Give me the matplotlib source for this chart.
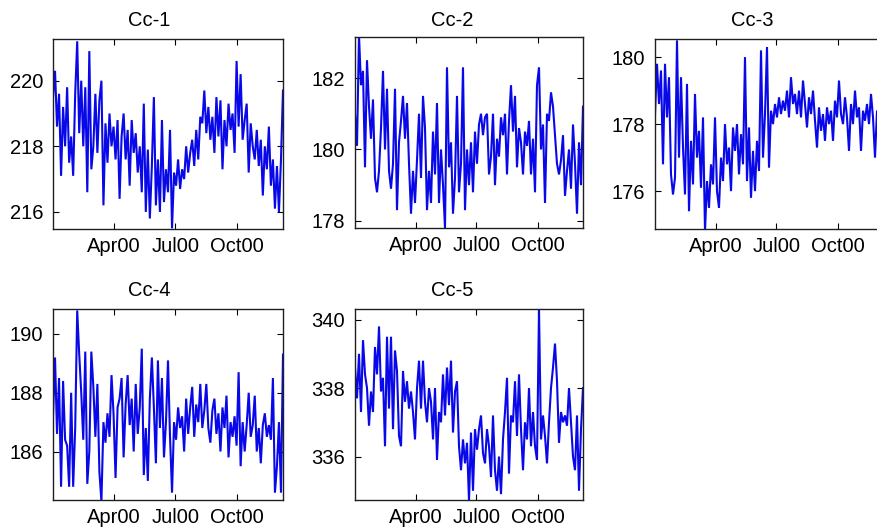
import numpy as np
import pandas as pd
import matplotlib
matplotlib.use('Agg')
import matplotlib.pyplot as plt
import matplotlib.dates as mdates

plt.rcParams['font.family'] = ['Liberation Sans', 'DejaVu Sans']

# sampled every third day through 2000
start = '2000-01-01'

cc1 = [219.5, 220.3, 218.6, 219.6, 217.1, 219.2, 218.0, 219.8, 217.5, 218.3,
       217.1, 219.6, 221.2, 218.4, 220.0, 218.0, 219.8, 216.6, 220.9, 217.3,
       218.0, 219.6, 217.8, 219.4, 220.0, 216.2, 218.7, 217.5, 219.0, 218.0,
       218.6, 217.6, 218.8, 216.4, 218.3, 219.0, 217.6, 218.5, 216.8, 218.8,
       217.8, 218.4, 217.2, 218.0, 216.6, 219.3, 216.0, 217.9, 215.8, 217.4,
       219.5, 216.2, 217.6, 216.0, 218.8, 216.3, 217.3, 216.6, 218.5, 215.5,
       217.2, 216.8, 217.6, 216.7, 217.3, 217.0, 218.0, 217.2, 217.8, 218.2,
       217.4, 218.5, 217.6, 218.9, 218.7, 219.7, 218.4, 219.2, 218.2, 218.9,
       217.8, 219.5, 218.3, 219.4, 217.3, 218.8, 218.0, 219.3, 218.5, 219.0,
       217.8, 220.6, 218.6, 220.2, 218.2, 218.8, 219.3, 217.2, 218.7, 218.0,
       217.6, 218.5, 217.4, 218.2, 216.5, 218.0, 217.3, 218.6, 216.8, 217.6,
       216.1, 217.4, 216.0, 217.6, 219.7]

cc2 = [181.0, 180.1, 183.2, 181.8, 182.2, 179.5, 182.5, 181.2, 180.3, 181.4,
       179.2, 178.8, 179.4, 180.6, 182.2, 180.0, 181.7, 179.4, 178.9, 179.6,
       181.7, 178.3, 180.2, 180.8, 181.5, 180.3, 181.3, 179.6, 178.2, 179.4,
       178.5, 179.7, 181.0, 179.2, 181.5, 180.6, 178.3, 179.4, 178.5, 180.5,
       179.3, 181.3, 178.5, 180.0, 179.0, 177.8, 182.3, 179.5, 180.2, 178.2,
       179.2, 181.5, 178.8, 179.6, 182.3, 178.3, 180.0, 179.0, 180.2, 178.8,
       180.5, 179.6, 180.7, 181.0, 180.4, 180.9, 181.0, 179.3, 179.8, 181.0,
       179.0, 180.3, 179.8, 180.9, 180.4, 181.0, 179.3, 180.8, 181.8, 180.5,
       181.5, 179.5, 180.6, 180.2, 179.3, 180.5, 180.1, 180.8, 179.3, 180.3,
       178.8, 181.8, 182.3, 180.0, 180.7, 178.5, 181.0, 180.8, 181.6, 181.2,
       180.4, 179.6, 179.3, 179.7, 180.4, 178.7, 179.4, 180.0, 178.9, 180.7,
       179.6, 178.2, 180.2, 179.0, 181.2]

cc3 = [178.3, 179.8, 178.6, 179.6, 176.8, 179.8, 178.2, 179.4, 176.5, 175.9,
       176.4, 180.5, 177.0, 179.4, 177.3, 175.9, 179.2, 175.4, 177.5, 176.2,
       178.9, 177.0, 177.8, 176.1, 178.2, 174.8, 176.3, 175.5, 176.8, 176.2,
       178.2, 176.0, 175.5, 177.0, 176.3, 178.0, 176.8, 177.3, 176.0, 177.9,
       177.2, 178.0, 176.5, 177.7, 176.8, 180.0, 176.3, 177.9, 175.8, 177.2,
       176.0, 177.5, 176.6, 180.2, 177.0, 178.3, 180.3, 176.7, 178.4, 178.0,
       178.6, 178.2, 178.8, 178.3, 178.7, 178.4, 179.0, 178.2, 179.4, 178.6,
       178.9, 178.3, 179.0, 178.2, 179.3, 178.6, 177.9, 178.8, 178.3, 179.0,
       178.1, 177.3, 178.5, 177.8, 178.3, 177.5, 178.5, 178.0, 178.4, 177.5,
       178.7, 178.2, 179.3, 178.3, 178.0, 178.8, 178.2, 177.2, 178.6, 178.0,
       179.0, 178.2, 178.5, 177.2, 178.4, 178.1, 178.6, 178.0, 178.9, 178.2,
       177.0, 178.4, 177.8, 178.3, 178.0]

cc4 = [187.2, 189.2, 186.6, 188.5, 184.8, 188.4, 186.4, 186.2, 184.8, 188.0,
       184.8, 186.8, 190.8, 189.3, 188.0, 186.4, 189.4, 184.9, 186.0, 189.4,
       188.2, 186.5, 188.3, 185.3, 184.3, 187.0, 186.3, 187.3, 186.5, 188.6,
       187.3, 185.1, 187.5, 187.8, 188.5, 185.8, 187.6, 188.6, 186.9, 187.8,
       186.0, 188.3, 186.6, 187.5, 189.5, 185.2, 186.8, 185.0, 187.8, 189.2,
       187.5, 185.6, 189.1, 186.8, 188.5, 185.8, 187.0, 189.1, 186.5, 184.6,
       187.0, 186.4, 187.5, 186.8, 187.2, 186.0, 187.8, 186.6, 187.5, 188.2,
       186.5, 187.6, 187.0, 188.3, 186.8, 187.4, 188.3, 186.8, 186.3, 187.4,
       187.8, 186.6, 187.3, 186.0, 187.5, 186.8, 187.9, 185.8, 187.0, 186.5,
       187.2, 186.2, 188.7, 185.5, 187.0, 186.0, 186.9, 188.0, 186.5, 186.9,
       187.9, 186.0, 186.8, 185.6, 186.9, 187.3, 186.5, 186.9, 186.4, 188.5,
       184.6, 185.5, 187.0, 184.6, 189.3]

cc5 = [338.6, 337.7, 339.0, 337.3, 339.4, 338.4, 338.0, 336.9, 337.9, 337.3,
       339.2, 338.4, 339.8, 337.9, 338.3, 336.3, 339.5, 337.4, 339.5, 336.8,
       339.1, 338.5, 336.6, 336.3, 338.5, 337.6, 338.2, 337.4, 337.9, 337.3,
       336.5, 338.0, 338.8, 337.4, 338.8, 337.6, 337.0, 338.0, 337.6, 336.5,
       338.0, 335.9, 337.3, 337.0, 338.4, 337.2, 338.6, 337.5, 338.8, 336.7,
       337.9, 338.2, 336.3, 335.6, 336.5, 335.8, 336.4, 334.7, 336.7, 335.0,
       336.8, 336.2, 336.8, 337.2, 336.1, 335.8, 336.8, 336.3, 335.4, 337.2,
       335.6, 335.0, 336.0, 334.9, 336.5, 337.3, 338.3, 335.5, 337.2, 337.0,
       338.2, 336.6, 338.4, 336.8, 335.6, 337.0, 336.5, 338.0, 336.3, 337.3,
       336.3, 335.9, 340.3, 336.5, 337.2, 336.6, 335.8, 337.0, 338.0, 338.6,
       339.3, 338.2, 336.4, 337.3, 337.0, 337.2, 336.9, 338.0, 337.0, 336.0,
       335.6, 337.2, 335.0, 336.8, 338.0]

names = ['Cc-1', 'Cc-2', 'Cc-3', 'Cc-4', 'Cc-5']
series = [cc1, cc2, cc3, cc4, cc5]
ylims = [(215.48, 221.27), (177.8, 183.15), (174.87, 180.54),
         (184.35, 190.85), (334.73, 340.31)]
yticks = [[216, 218, 220], [178, 180, 182], [176, 178, 180],
          [186, 188, 190], [336, 338, 340]]
xtick_dates = ['2000-04-01', '2000-07-01', '2000-10-01']

W, H = 877.0, 532.0
# axes boxes in pixels: left, top, right, bottom
boxes = [(53, 39, 283, 229), (355, 37, 583, 228), (655, 39, 883, 229),
         (53, 309, 283, 500), (355, 309, 583, 500)]
title_pos = [(149, 20), (452, 20), (752, 20), (149, 290), (452, 290)]

fs = 14.5
fig = plt.figure(figsize=(W / 100, H / 100), dpi=100)

for k in range(5):
    l, t, r, b = boxes[k]
    ax = fig.add_axes([l / W, 1 - b / H, (r - l) / W, (b - t) / H])
    dates = pd.date_range(start, periods=len(series[k]), freq='3D')
    ax.plot(dates, series[k], '-', color='#0808e8', linewidth=1.5,
            solid_joinstyle='miter')
    ax.set_xlim(dates[0], dates[-1])
    ax.set_ylim(*ylims[k])
    ax.set_yticks(yticks[k])
    ax.set_xticks(pd.to_datetime(xtick_dates))
    ax.xaxis.set_major_formatter(mdates.DateFormatter('%b%y'))
    ax.tick_params(direction='in', length=4, width=0.8, top=True, right=True,
                   labelsize=fs, colors='black')
    ax.tick_params(axis='x', pad=6)
    ax.tick_params(axis='y', pad=7)
    for s in ax.spines.values():
        s.set_linewidth(1.0)
        s.set_color('#202020')
    fig.text(title_pos[k][0] / W, 1 - title_pos[k][1] / H, names[k],
             ha='center', va='center', fontsize=fs)

fig.savefig('out.png', dpi=100)
